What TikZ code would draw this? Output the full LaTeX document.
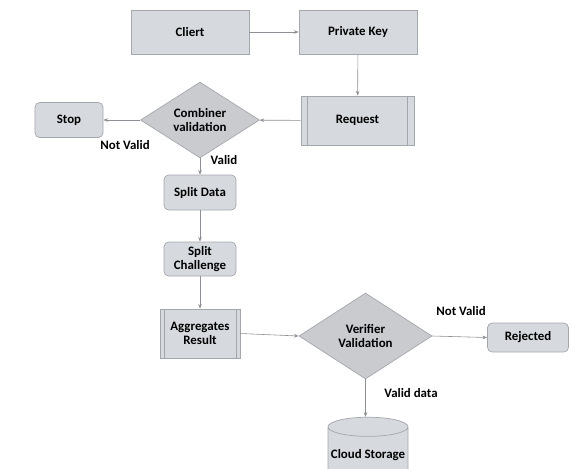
\documentclass[tikz,border=0pt]{standalone}
\usepackage{fontspec}
\setmainfont{Carlito}
\usetikzlibrary{arrows.meta,shapes.geometric,positioning,calc}
\definecolor{fcfill}{HTML}{D6DADF}
\definecolor{fcline}{HTML}{A3A7AC}
\definecolor{fcdiafill}{HTML}{C9CBCF}
\definecolor{fcarrow}{HTML}{8C8F93}
\tikzset{
  fcbox/.style={
    rectangle, draw=fcline, fill=fcfill, line width=0.6pt,
    inner sep=1pt, align=center, font=\bfseries\fontsize{11}{11.5}\selectfont
  },
  fcround/.style={fcbox, rounded corners=4pt},
  fcproc/.style={fcbox,
    path picture={
      \draw[fcline,line width=0.6pt]
        ([xshift=#1]path picture bounding box.north west) -- ([xshift=#1]path picture bounding box.south west)
        ([xshift=-#1]path picture bounding box.north east) -- ([xshift=-#1]path picture bounding box.south east);
    }
  },
  fcproc/.default=5pt,
  fcdecision/.style={
    diamond, draw=fcline, fill=fcdiafill, line width=0.6pt,
    inner sep=0pt, align=center, font=\bfseries\fontsize{11}{11.5}\selectfont
  },
  fcstore/.style={
    cylinder, shape border rotate=90, aspect=0.25, draw=fcline, fill=fcfill,
    line width=0.6pt, inner sep=1pt, font=\bfseries\fontsize{11}{11.5}\selectfont
  },
  fcedge/.style={-{Stealth[length=4pt,width=3pt]}, draw=fcarrow, line width=0.5pt},
  fclabel/.style={font=\bfseries\fontsize{11}{11.5}\selectfont, inner sep=1pt}
}
\begin{document}
\begin{tikzpicture}[x=0.03cm,y=-0.03cm]
  \useasboundingbox (0,0) rectangle (571,468);
  \clip (0,0) rectangle (571,468);
  % top row
  \node[fcbox,minimum width=3.54cm,minimum height=1.32cm] (client) at (190,32) {Cliert};
  \node[fcbox,minimum width=3.54cm,minimum height=1.32cm] (pkey) at (358,32) {Private Key};
  \node[fcproc=5.5pt,minimum width=3.39cm,minimum height=1.47cm] (req) at (357.5,120.5) {Request};
  \node[fcdecision,minimum width=3.57cm,minimum height=1.83cm] (comb) at (200,120) {Combiner\\validation};
  \node[fcround,minimum width=2.04cm,minimum height=1.05cm] (stop) at (69,120) {Stop};
  % middle column
  \node[fcround,minimum width=2.16cm,minimum height=1.05cm] (sdata) at (200,192.5) {Split Data};
  \node[fcround,minimum width=2.16cm,minimum height=1.02cm] (schal) at (200,259) {Split\\Challenge};
  \node[fcproc=3.5pt,minimum width=2.4cm,minimum height=1.47cm] (aggr) at (200,333.5) {Aggregates\\Result};
  % bottom right
  \node[fcdecision,minimum width=3.99cm,minimum height=2.58cm] (verif) at (365.5,336) {Verifier\\Validation};
  \node[fcround,minimum width=2.43cm,minimum height=0.87cm] (rej) at (528,337.5) {Rejected};
  \node[fcstore,minimum width=2.4cm,minimum height=1.9cm] (cloud) at (368,455) {Cloud Storage};
  % labels
  \node[fclabel] (nv1) at (125,145) {Not Valid};
  \node[fclabel] (v1) at (224,160) {Valid};
  \node[fclabel] (nv2) at (461,311) {Not Valid};
  \node[fclabel] (vd) at (411,393) {Valid data};
  % connectors
  \draw[fcedge] (client) -- (pkey);
  \draw[fcedge] (pkey) -- (req);
  \draw[fcedge] (req) -- (comb);
  \draw[fcedge] (comb) -- (stop);
  \draw[fcedge] (comb) -- (sdata);
  \draw[fcedge] (sdata) -- (schal);
  \draw[fcedge] (schal) -- (aggr);
  \draw[fcedge] (aggr.east) -- (verif.west);
  \draw[fcedge] (verif.east) -- (rej.west);
  \draw[fcedge] (verif.south) -- (verif.south |- cloud.north);
\end{tikzpicture}
\end{document}
